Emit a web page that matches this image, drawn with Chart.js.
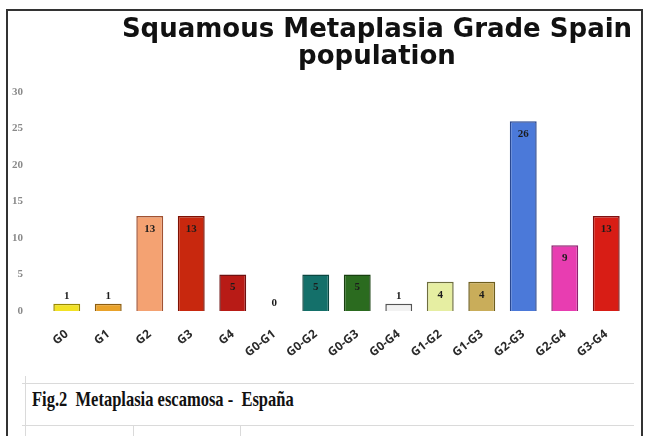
<!DOCTYPE html>
<html>
<head>
<meta charset="utf-8">
<script src="https://cdn.jsdelivr.net/npm/chart.js@4"></script>
<style>
    body { margin: 0; background: #fff; }
    #frame {
        position: absolute; left: 6px; top: 9px; width: 633px; height: 440px;
        border-left: 2px solid #333; border-top: 2px solid #333; border-right: 2px solid #333;
    }
    #chartBox { position: absolute; left: 0; top: 0; width: 648px; height: 366px; }
    .rule { position: absolute; background: #dadada; }
    #caption {
        position: absolute; left: 32px; top: 386px;
        font-family: "Liberation Serif", "Times New Roman", serif;
        font-size: 22px; font-weight: bold; color: #111; white-space: pre;
        transform: scaleX(0.75); transform-origin: left top;
    }
</style>
</head>
<body>
<div id="frame"></div>
<div class="rule" style="left:22px; top:383px; width:612px; height:1px;"></div>
<div class="rule" style="left:22px; top:425px; width:612px; height:1px;"></div>
<div class="rule" style="left:25px; top:376px; width:1px; height:60px;"></div>
<div class="rule" style="left:133px; top:425px; width:1px; height:11px;"></div>
<div class="rule" style="left:240px; top:425px; width:1px; height:11px;"></div>
<div id="chartBox"><canvas id="gradeChart"></canvas></div>
<div id="caption">Fig.2  Metaplasia escamosa -  España</div>
<script>
// Grades and combinations of grades
const grades = ["G0", "G1", "G2", "G3", "G4", "G0-G1", "G0-G2", "G0-G3", "G0-G4",
    "G1-G2", "G1-G3", "G2-G3", "G2-G4", "G3-G4"];
const counts = [1, 1, 13, 13, 5, 0, 5, 5, 1, 4, 4, 26, 9, 13];
const yTicks = [0, 5, 10, 15, 20, 25, 30];
const titleLines = ["Squamous Metaplasia Grade Spain", "population"];

const fillColors = ["#f2e224", "#e9a22a", "#f4a272", "#c8280e", "#b81b16", "#cccccc", "#14706a",
    "#2b6b1f", "#f2f2f2", "#e6eea2", "#c9ad5a", "#4b79d9", "#e83db1", "#d81d15"];
const edgeColors = ["#9a8a00", "#8e5e10", "#a05232", "#7e1002", "#6e1010", "#888888", "#0a4640",
    "#173f0f", "#555555", "#6e6e3e", "#6e5e1e", "#2a4890", "#8e2070", "#7e1010"];

// Title sits right of the canvas centre in the original, so draw it ourselves
const sideTitle = {
    id: "sideTitle",
    afterDraw(chart) {
        const c = chart.ctx;
        c.save();
        c.font = "bold 26px 'DejaVu Sans', sans-serif";
        c.fillStyle = "#111";
        c.textAlign = "center";
        c.textBaseline = "alphabetic";
        c.fillText(titleLines[0], 377, 37);
        c.fillText(titleLines[1], 377, 64);
        c.restore();
    }
};

// Value written on each bar: near the top inside, or above short bars
const barValues = {
    id: "barValues",
    afterDatasetsDraw(chart) {
        const c = chart.ctx;
        const meta = chart.getDatasetMeta(0);
        c.save();
        c.font = "bold 11px 'Liberation Serif', serif";
        c.fillStyle = "#1c1c1c";
        c.textAlign = "center";
        c.textBaseline = "middle";
        meta.data.forEach((bar, i) => {
            const v = counts[i];
            const y = v >= 3 ? Math.min(bar.y + 13, (bar.y + bar.base) / 2) : bar.y - 8;
            c.fillText(String(v), bar.x, y);
        });
        c.restore();
    }
};

new Chart(document.getElementById("gradeChart"), {
    type: "bar",
    data: {
        labels: grades,
        datasets: [{
            data: counts,
            backgroundColor: fillColors,
            borderColor: edgeColors,
            borderWidth: 1.5,
            barPercentage: 0.72,
            categoryPercentage: 0.9,
        }]
    },
    options: {
        responsive: true,
        maintainAspectRatio: false,
        animation: false,
        layout: { padding: { left: 0, right: 21, top: 92, bottom: 4 } },
        plugins: {
            legend: { display: false },
            tooltip: { enabled: false },
            title: { display: false },
        },
        scales: {
            x: {
                grid: { display: false },
                border: { display: false },
                ticks: {
                    color: "#2a2a2a",
                    font: { family: "'Open Sans', sans-serif", size: 12, weight: "bold" },
                    minRotation: 38,
                    maxRotation: 38,
                    padding: 8,
                },
                afterFit(scale) { scale.height = 51; },
            },
            y: {
                min: 0,
                max: 30,
                grid: { display: false },
                border: { display: false },
                afterBuildTicks(scale) { scale.ticks = yTicks.map(v => ({ value: v })); },
                ticks: {
                    color: "#8a8a8a",
                    font: { family: "'Liberation Serif', serif", size: 11, weight: "bold" },
                    padding: 15,
                },
                afterFit(scale) { scale.width = 46; },
            }
        }
    },
    plugins: [barValues, sideTitle]
});
</script>
</body>
</html>
